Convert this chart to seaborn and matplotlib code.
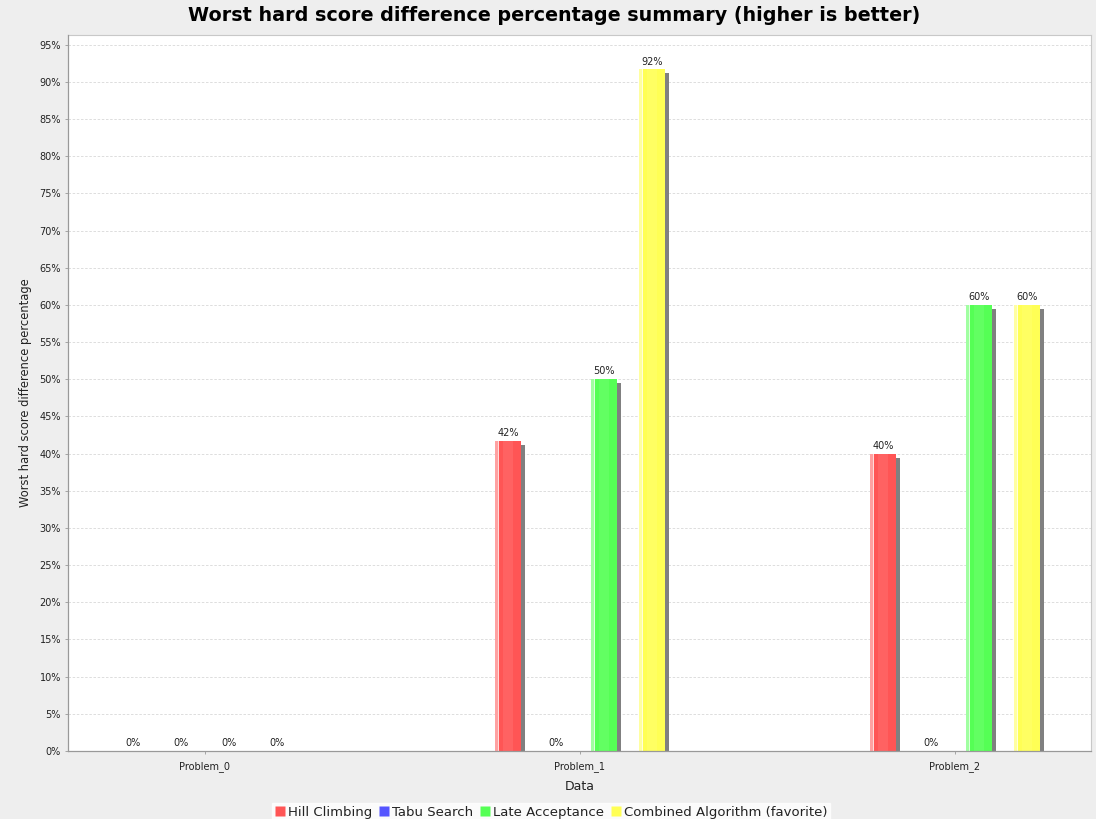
import matplotlib
matplotlib.use("Agg")
import matplotlib.pyplot as plt
import numpy as np
import pandas as pd
import seaborn as sns
from matplotlib.patches import Rectangle
from matplotlib.lines import Line2D
from matplotlib.transforms import ScaledTranslation
from matplotlib.ticker import PercentFormatter, MultipleLocator

problems = ["Problem_0", "Problem_1", "Problem_2"]
algorithms = ["Hill Climbing", "Tabu Search", "Late Acceptance",
              "Combined Algorithm (favorite)"]
hill_climbing = [0.0, 0.4167, 0.40]
tabu_search = [0.0, 0.0, 0.0]
late_acceptance = [0.0, 0.50, 0.60]
combined_algorithm = [0.0, 0.9167, 0.60]
colors = ["#FF5555", "#5555FF", "#55FF55", "#FFFF55"]

series = [hill_climbing, tabu_search, late_acceptance, combined_algorithm]
df = pd.DataFrame(
    [(p, a, v) for a, vals in zip(algorithms, series) for p, v in zip(problems, vals)],
    columns=["problem", "algorithm", "value"],
)

sns.set_theme(style="white")
plt.rcParams["font.family"] = ["DejaVu Sans"]

fig = plt.figure(figsize=(10.96, 8.19), dpi=100, facecolor="#EEEEEE")
ax = fig.add_axes([68 / 1096, 68 / 819, 1023 / 1096, 716 / 819])
ax.set_facecolor("white")

sns.barplot(data=df, x="problem", y="value", hue="algorithm",
            order=problems, hue_order=algorithms, palette=colors,
            width=0.512, saturation=1, linewidth=0, legend=False, ax=ax)

# drop shadow: same rectangle shifted 4 px right and 4 px down
shadow_shift = ax.transData + ScaledTranslation(4 / 100, -4 / 100, fig.dpi_scale_trans)

bar_w = 0.068
for container in ax.containers:
    for bar in container:
        cx = bar.get_x() + bar.get_width() / 2
        bar.set_x(cx - bar_w / 2)
        bar.set_width(bar_w)
        bar.set_zorder(3)
        h = bar.get_height()
        if h > 0:
            x0 = bar.get_x()
            ax.add_patch(Rectangle((x0, 0), bar_w, h, facecolor="#808080",
                                   edgecolor="none", transform=shadow_shift,
                                   zorder=2, clip_on=True))
            ax.add_patch(Rectangle((x0, 0), bar_w * 0.11, h, facecolor="white",
                                   alpha=0.45, edgecolor="none", zorder=4))
            ax.add_patch(Rectangle((x0 + bar_w * 0.11, 0), bar_w * 0.05, h,
                                   facecolor="white", alpha=0.8,
                                   edgecolor="none", zorder=4))
            ax.add_patch(Rectangle((x0 + bar_w * 0.3, 0), bar_w * 0.4, h,
                                   facecolor="white", alpha=0.08,
                                   edgecolor="none", zorder=4))
    ax.bar_label(container, fmt=lambda v: f"{v * 100:.0f}%", padding=2,
                 fontsize=7, color="#222222", zorder=5)

ax.set_xlim(-0.365, 2.363)
ax.set_ylim(0, 0.963)
ax.yaxis.set_major_locator(MultipleLocator(0.05))
ax.yaxis.set_major_formatter(PercentFormatter(1.0, decimals=0))
ax.grid(axis="y", color="#D8D8D8", linestyle=(0, (3, 2)), linewidth=0.6, zorder=0)
ax.set_axisbelow(True)

for side in ["top", "right"]:
    ax.spines[side].set_color("#C8C8C8")
    ax.spines[side].set_linewidth(0.8)
for side in ["left", "bottom"]:
    ax.spines[side].set_color("#999999")
    ax.spines[side].set_linewidth(0.9)
    ax.spines[side].set_zorder(6)

ax.tick_params(axis="both", which="major", labelsize=7, length=2, width=0.6,
               color="#999999", labelcolor="#222222", direction="out",
               bottom=True, left=True, pad=3)
ax.tick_params(axis="x", pad=5)

ax.set_xlabel("Data", fontsize=9, color="#222222", labelpad=6)
ax.set_ylabel("Worst hard score difference percentage", fontsize=8.3,
              color="#222222", labelpad=5)

fig.suptitle("Worst hard score difference percentage summary (higher is better)",
             fontsize=13.8, fontweight="bold", color="black", x=0.5055,
             y=0.993, va="top")

handles = [Line2D([], [], marker="s", linestyle="none", markersize=7,
                  markerfacecolor=c, markeredgecolor="none") for c in colors]
leg = fig.legend(handles, algorithms, loc="lower center",
                 bbox_to_anchor=(0.503, -0.003), ncol=4, fontsize=9.5,
                 frameon=True, fancybox=False, handlelength=0.8,
                 handletextpad=0.2, columnspacing=0.5, borderpad=0.2,
                 borderaxespad=0)
leg.get_frame().set_facecolor("white")
leg.get_frame().set_edgecolor("white")
for t in leg.get_texts():
    t.set_color("#222222")

fig.savefig("out.png", dpi=100, facecolor=fig.get_facecolor())
